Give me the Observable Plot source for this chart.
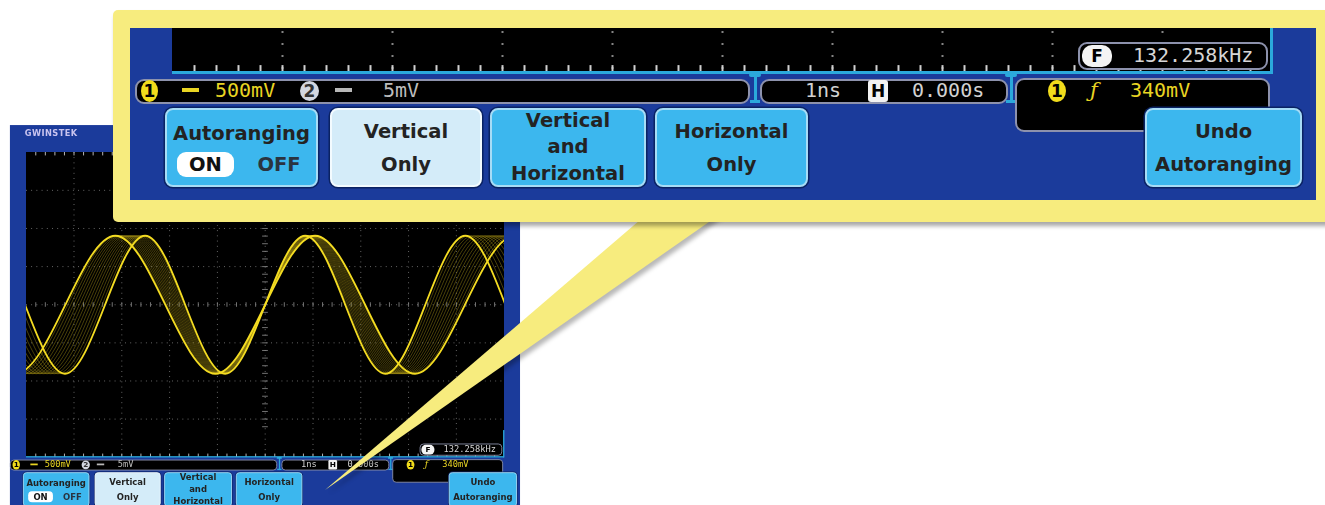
<!DOCTYPE html>
<html><head><meta charset="utf-8">
<script src="https://cdn.jsdelivr.net/npm/d3@7"></script>
<script src="https://cdn.jsdelivr.net/npm/@observablehq/plot@0.6"></script>
<style>
html,body{margin:0;padding:0;background:#fff;}
#page{position:relative;width:1325px;height:505px;overflow:hidden;background:#fff;font-family:"DejaVu Sans",sans-serif;}
</style></head>
<body><div id="page"></div>
<script>
// ---------- data ----------
const tracePeriodsDiv = [3.35, 3.41, 3.47, 3.53, 3.59, 3.65, 3.71, 3.77, 3.83, 3.89, 3.95, 4.01, 4.07, 4.13, 4.18]; // period of each swept trace (div)
const amplitudeDiv = 1.81;       // peak amplitude (div)
const triggerTimeDiv = 5;        // common rising crossing (div)
const quarterLevels = [0, 1, 0, -1];
const gridDivX = [1, 2, 3, 4, 5, 6, 7, 8, 9];
const gridDivY = [-3, -2, -1, 0, 1, 2, 3];
const buttonLabels = [["Autoranging"], ["Vertical", "Only"], ["Vertical", "and", "Horizontal"], ["Horizontal", "Only"], ["Undo", "Autoranging"]];
const toggleLabels = ["ON", "OFF"];
const ch1Scale = "500mV", ch2Scale = "5mV", timebase = "1ns", hPosition = "0.000s", triggerLevel = "340mV", frequency = "132.258kHz";
const brand = "GWINSTEK";

// ---------- styling / layout ----------
const BLUE = "#1b3b9b", BTN = "#3cb7ee", BTN_SEL = "#d4ecf9", YEL = "#f7ec7e", CYAN = "#2ba9dc", WAVE = "#f4dc22";
const SMALL = 0.4345;
const buttonX = [[-7, 146], [158, 310], [318, 474], [483, 636], [973, 1130]];
const selectedButton = 1;
const unitless = new Set(["zIndex", "opacity", "fontWeight", "flex"]);

function box(parent, css, text) {
  const d = document.createElement("div");
  d.style.position = "absolute";
  for (const [k, v] of Object.entries(css)) d.style[k] = (typeof v === "number" && !unitless.has(k)) ? v + "px" : v;
  if (text != null) d.textContent = text;
  parent.appendChild(d);
  return d;
}

// trace table built from the periods
const traceTable = [];
tracePeriodsDiv.forEach((P, i) => {
  for (let k = -9; k <= 9; k++) {
    traceTable.push({trace: i, t: triggerTimeDiv + k * P / 4, v: amplitudeDiv * quarterLevels[((k % 4) + 4) % 4]});
  }
});
const lastTrace = tracePeriodsDiv.length - 1;
const outerTable = traceTable.filter(d => d.trace === 0 || d.trace === lastTrace);
const innerTable = traceTable.filter(d => d.trace !== 0 && d.trace !== lastTrace);
const minorX = d3.range(1, 50).map(i => i / 5);
const minorY = d3.range(4, 37).map(i => -4 + i / 5);

function makeWavePlot() {
  return Plot.plot({
    width: 1100, height: 702, margin: 0,
    x: {domain: [0, 10], axis: null},
    y: {domain: [-4, 4], axis: null},
    style: {background: "#000", display: "block"},
    marks: [
      Plot.ruleX(gridDivX, {stroke: "#858585", strokeWidth: 2, strokeDasharray: "2,10"}),
      Plot.ruleY(gridDivY, {stroke: "#858585", strokeWidth: 2, strokeDasharray: "2,10"}),
      Plot.ruleX(minorX, {y1: -4, y2: -3.91, stroke: "#d0d0d0", strokeWidth: 2}),
      Plot.ruleX(minorX, {y1: 3.91, y2: 4, stroke: "#d0d0d0", strokeWidth: 2}),
      Plot.ruleX(minorX, {y1: -0.06, y2: 0.06, stroke: "#858585", strokeWidth: 2}),
      Plot.ruleY(minorY, {x1: 4.94, x2: 5.06, stroke: "#858585", strokeWidth: 2}),
      Plot.line(innerTable, {x: "t", y: "v", z: "trace", curve: "natural", stroke: "#c2ab18", strokeWidth: 1.6, strokeOpacity: 0.55, clip: true}),
      Plot.line(outerTable, {x: "t", y: "v", z: "trace", curve: "natural", stroke: WAVE, strokeWidth: 4.2, clip: true})
    ]
  });
}

function statusBox(parent, x1, x2, y1, y2) {
  return box(parent, {left: x1, top: y1, width: x2 - x1, height: y2 - y1, background: "#000", border: "2px solid #8d92ad", borderRadius: "9px", boxSizing: "border-box"});
}
function monoText(parent, x, y, text, color) {
  return box(parent, {left: x, top: y - 13, height: 26, lineHeight: "26px", font: "20px 'DejaVu Sans Mono'", color, whiteSpace: "nowrap"}, text);
}
function badge(parent, x1, x2, y1, y2, bg, fg, text, radius) {
  return box(parent, {left: x1, top: y1, width: x2 - x1, height: y2 - y1, background: bg, color: fg, borderRadius: radius, font: "bold 17px 'DejaVu Sans'", lineHeight: (y2 - y1) + "px", textAlign: "center"}, text);
}

function makeButton(parent, idx) {
  const [x1, x2] = buttonX[idx];
  const sel = idx === selectedButton;
  const b = box(parent, {left: x1, top: 737, width: x2 - x1, height: 79, background: sel ? BTN_SEL : BTN,
    border: "2px solid " + (sel ? "#f3fbff" : "#a6dcf6"), borderRadius: "8px", boxShadow: "0 0 0 1.5px #0a2263", boxSizing: "border-box",
    font: "bold 19.5px 'DejaVu Sans'", color: "#232323", textAlign: "center"});
  const lines = buttonLabels[idx];
  if (idx === 0) {
    box(b, {left: 0, top: 7, width: x2 - x1 - 4, lineHeight: "33px"}, lines[0]);
    box(b, {left: 10, top: 42, width: 57, height: 25, background: "#fff", borderRadius: "9px", lineHeight: "25px", color: "#111"}, toggleLabels[0]);
    box(b, {left: 80, top: 42, width: 64, height: 25, lineHeight: "25px", color: "#2a3440"}, toggleLabels[1]);
  } else {
    const lh = lines.length === 3 ? 26.5 : 33;
    const top = (75 - lh * lines.length) / 2;
    lines.forEach((l, i) => box(b, {left: 0, top: top + i * lh, width: x2 - x1 - 4, lineHeight: lh + "px"}, l));
  }
}

function makeScope(withLogo) {
  const root = document.createElement("div");
  root.style.cssText = "position:absolute;left:0;top:0;width:1100px;height:702px;";
  box(root, {left: -37, top: -62, width: 1174, height: 900, background: BLUE});
  if (withLogo) box(root, {left: -3, top: -55, width: 160, height: 24, lineHeight: "24px", font: "bold 19px 'DejaVu Sans'", color: "#c8c3ef", letterSpacing: "1px"}, brand);
  const scr = box(root, {left: 0, top: 0, width: 1100, height: 702, background: "#000", overflow: "hidden"});
  scr.appendChild(makeWavePlot());
  box(root, {left: 0, top: 700, width: 1100, height: 3, background: CYAN});
  box(root, {left: 1098, top: 640, width: 3, height: 63, background: CYAN});
  [583, 839].forEach(cx => {
    box(root, {left: cx - 1.5, top: 702, width: 3, height: 30, background: CYAN});
    box(root, {left: cx - 6, top: 702, width: 12, height: 4, background: CYAN, borderRadius: "2px"});
    box(root, {left: cx - 5, top: 729, width: 10, height: 3, background: CYAN});
  });
  statusBox(root, 906, 1096, 671, 699);
  badge(root, 910, 940, 674, 696, "#f4f4f4", "#000", "F", "10px");
  monoText(root, 961, 685, frequency, "#d6d6d6");
  statusBox(root, -37, 578, 708, 733);
  badge(root, -31, -14, 709, 731, "#f1dc1c", "#000", "1", "50%");
  box(root, {left: 10, top: 717, width: 17, height: 4, background: "#e9d523"});
  monoText(root, 43, 720, ch1Scale, "#e9d523");
  badge(root, 128, 147, 710, 730, "#d3d7e0", "#333", "2", "50%");
  box(root, {left: 163, top: 717, width: 17, height: 4, background: "#b8b8b8"});
  monoText(root, 211, 720, ch2Scale, "#bdbdbd");
  statusBox(root, 588, 836, 708, 733);
  monoText(root, 633, 720, timebase, "#d2d2d2");
  badge(root, 696, 716, 709, 731, "#f2f2f2", "#000", "H", "3px");
  monoText(root, 740, 720, hPosition, "#d2d2d2");
  statusBox(root, 843, 1098, 707, 761);
  badge(root, 876, 894, 709, 731, "#f1dc1c", "#000", "1", "50%");
  box(root, {left: 918, top: 707, height: 26, lineHeight: "26px", font: "italic 21px 'DejaVu Serif'", color: "#e9d523"}, "ƒ");
  monoText(root, 958, 720, triggerLevel, "#e9d523");
  buttonLabels.forEach((_, i) => makeButton(root, i));
  return root;
}

const page = document.getElementById("page");

// small scope
const small = box(page, {left: 26, top: 152, width: 1100, height: 702, transform: `scale(${SMALL})`, transformOrigin: "0 0", zIndex: "1"});
small.appendChild(makeScope(true));

// wedge (pointer of the callout)
const ns = "http://www.w3.org/2000/svg";
const wsvg = document.createElementNS(ns, "svg");
wsvg.setAttribute("width", 1325); wsvg.setAttribute("height", 505);
wsvg.style.cssText = "position:absolute;left:0;top:0;z-index:2;";
const apex = [325, 490], topL = [654, 208], topR = [729, 208];
const shadow = document.createElementNS(ns, "polygon");
shadow.setAttribute("points", [apex, topL, topR].map(p => (p[0] + 4) + "," + (p[1] + 3)).join(" "));
shadow.setAttribute("fill", "rgba(0,0,0,0.28)");
shadow.setAttribute("style", "filter:blur(2px)");
wsvg.appendChild(shadow);
const wedge = document.createElementNS(ns, "polygon");
wedge.setAttribute("points", [apex, topL, topR].map(p => p.join(",")).join(" "));
wedge.setAttribute("fill", YEL);
wsvg.appendChild(wedge);
page.appendChild(wsvg);

// callout
const callout = box(page, {left: 113, top: 10, width: 1240, height: 212, background: YEL, borderRadius: "5px", boxShadow: "2px 4px 4px rgba(0,0,0,0.35)", zIndex: "3"});
const win = box(callout, {left: 17, top: 18, width: 1186, height: 172, background: BLUE, overflow: "hidden"});
const big = box(win, {left: 42, top: -657, width: 1100, height: 702});
big.appendChild(makeScope(false));
</script>
</body></html>
